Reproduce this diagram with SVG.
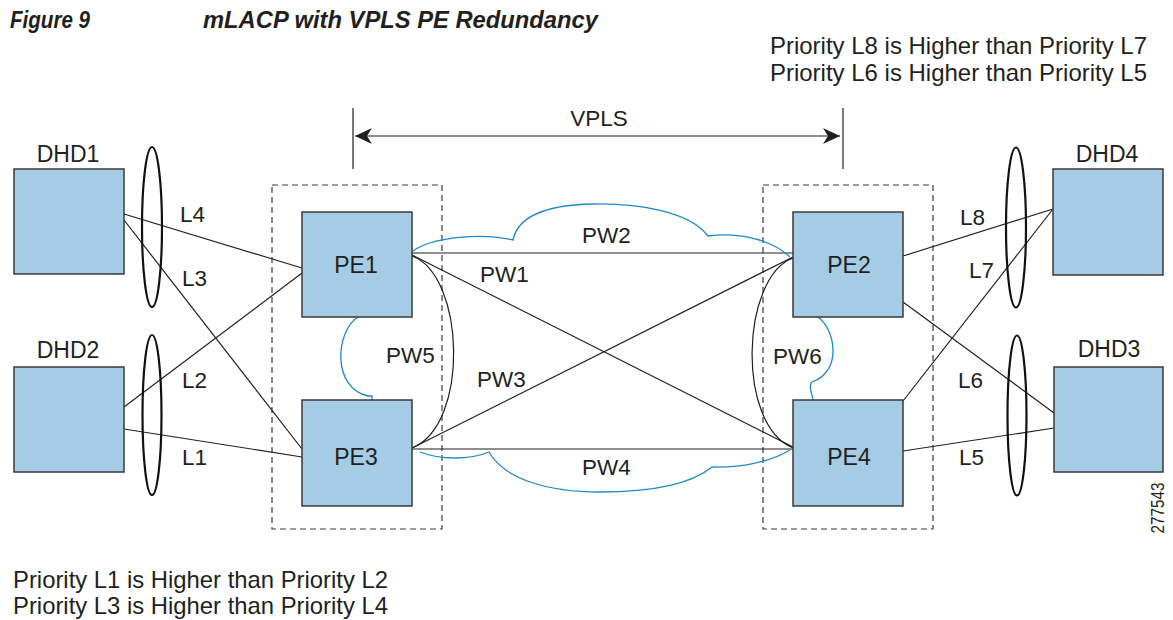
<svg xmlns="http://www.w3.org/2000/svg" width="1173" height="620" viewBox="0 0 1173 620">
<style>
text{font-family:"Liberation Sans",Arial,sans-serif;fill:#231f20}
.lbl{font-size:22.5px}
.node{font-size:23px;text-anchor:middle}
.pri{font-size:24px}
.title{font-size:24px;font-weight:bold;font-style:italic}
.box{fill:#a6cbe4;stroke:#3a3a3a;stroke-width:1.5}
.dash{fill:none;stroke:#3a3a3a;stroke-width:1.2;stroke-dasharray:6 4}
.ln{fill:none;stroke:#231f20;stroke-width:1.2}
.cl{fill:none;stroke:#1f8ac8;stroke-width:1.3}
.el{fill:none;stroke:#111;stroke-width:2.2}
</style>
<defs>
<marker id="ah" viewBox="0 0 18 18" refX="17" refY="9" markerWidth="18" markerHeight="18" markerUnits="userSpaceOnUse" orient="auto-start-reverse">
<path d="M0,1 L17,9 L0,17 L5,9 z" fill="#231f20"/>
</marker>
</defs>

<g id="title">
<text class="title" x="10" y="28" textLength="80" lengthAdjust="spacingAndGlyphs">Figure 9</text>
<text class="title" x="203" y="28" textLength="395" lengthAdjust="spacingAndGlyphs">mLACP with VPLS PE Redundancy</text>
</g>

<g id="notes">
<text class="pri" x="770" y="54" textLength="377" lengthAdjust="spacingAndGlyphs">Priority L8 is Higher than Priority L7</text>
<text class="pri" x="770" y="81" textLength="377" lengthAdjust="spacingAndGlyphs">Priority L6 is Higher than Priority L5</text>
<text class="pri" x="13" y="588" textLength="375" lengthAdjust="spacingAndGlyphs">Priority L1 is Higher than Priority L2</text>
<text class="pri" x="13" y="614" textLength="375" lengthAdjust="spacingAndGlyphs">Priority L3 is Higher than Priority L4</text>
<text x="1164" y="508" font-size="19" text-anchor="middle" transform="rotate(-90 1164 508)" textLength="51" lengthAdjust="spacingAndGlyphs">277543</text>
</g>

<g id="vpls">
<line class="ln" x1="353" y1="108" x2="353" y2="169"/>
<line class="ln" x1="843" y1="108" x2="843" y2="169"/>
<line class="ln" x1="355" y1="136" x2="840" y2="136" marker-start="url(#ah)" marker-end="url(#ah)"/>
<text class="lbl" x="599" y="126" text-anchor="middle">VPLS</text>
</g>

<g id="redundancy-groups">
<rect class="dash" x="272" y="185" width="170" height="344"/>
<rect class="dash" x="763" y="185" width="170" height="344"/>
</g>

<g id="connectors">
<line class="ln" x1="124" y1="214" x2="302" y2="268"/>
<line class="ln" x1="124" y1="220" x2="302" y2="449"/>
<line class="ln" x1="124" y1="407" x2="302" y2="273"/>
<line class="ln" x1="124" y1="429" x2="302" y2="457"/>
<line class="ln" x1="903" y1="256" x2="1053" y2="209"/>
<line class="ln" x1="903" y1="401" x2="1053" y2="209"/>
<line class="ln" x1="903" y1="302" x2="1054" y2="413"/>
<line class="ln" x1="903" y1="451" x2="1054" y2="428"/>
<line class="ln" x1="412" y1="253" x2="793" y2="253"/>
<line class="ln" x1="412" y1="255" x2="793" y2="447"/>
<line class="ln" x1="412" y1="448" x2="793" y2="257"/>
<line class="ln" x1="412" y1="449" x2="793" y2="449"/>
<path class="ln" d="M412,256 C465,275 470,425 412,448"/>
<path class="ln" d="M793,258 C741,277 736,425 793,448"/>
<path class="cl" d="M413,251 C430,238 480,232 513,240 C518,215 550,205 592,204 C640,203 690,212 708,236 C740,232 772,240 790,257"/>
<path class="cl" d="M420,452 C440,460 470,460 489,452 C505,480 550,492 600,492 C650,492 690,485 712,467 C740,468 770,462 790,450"/>
<path class="cl" d="M358,317 C335,332 332,388 368,396 L372,396 L372,400"/>
<path class="cl" d="M818,317 C836,330 842,372 812,382 C808,386 812,393 813,400"/>
<ellipse class="el" cx="152" cy="227" rx="10" ry="80"/>
<ellipse class="el" cx="152" cy="415" rx="9.5" ry="80"/>
<ellipse class="el" cx="1016" cy="227.5" rx="10" ry="80"/>
<ellipse class="el" cx="1017" cy="415.5" rx="9.5" ry="80"/>
<text class="lbl" x="180" y="222">L4</text>
<text class="lbl" x="182" y="286">L3</text>
<text class="lbl" x="182" y="388">L2</text>
<text class="lbl" x="182" y="465">L1</text>
<text class="lbl" x="960" y="225">L8</text>
<text class="lbl" x="969" y="278">L7</text>
<text class="lbl" x="958" y="388">L6</text>
<text class="lbl" x="959" y="465">L5</text>
<text class="lbl" x="480" y="282">PW1</text>
<text class="lbl" x="582" y="243">PW2</text>
<text class="lbl" x="477" y="387">PW3</text>
<text class="lbl" x="582" y="475">PW4</text>
<text class="lbl" x="386" y="363">PW5</text>
<text class="lbl" x="773" y="364">PW6</text>
</g>

<g id="DHD1"><rect class="box" x="14" y="169" width="110" height="105"/><text class="node" x="68" y="162">DHD1</text></g>
<g id="DHD2"><rect class="box" x="14" y="367" width="110" height="105"/><text class="node" x="68" y="358">DHD2</text></g>
<g id="DHD4"><rect class="box" x="1053" y="169" width="110" height="106"/><text class="node" x="1107" y="162">DHD4</text></g>
<g id="DHD3"><rect class="box" x="1054" y="367" width="109" height="105"/><text class="node" x="1109" y="357">DHD3</text></g>
<g id="PE1"><rect class="box" x="302" y="212" width="110" height="105"/><text class="node" x="356" y="273">PE1</text></g>
<g id="PE3"><rect class="box" x="302" y="400" width="110" height="106"/><text class="node" x="356" y="465">PE3</text></g>
<g id="PE2"><rect class="box" x="793" y="212" width="110" height="105"/><text class="node" x="849" y="273">PE2</text></g>
<g id="PE4"><rect class="box" x="793" y="400" width="110" height="106"/><text class="node" x="849" y="465">PE4</text></g>
</svg>
